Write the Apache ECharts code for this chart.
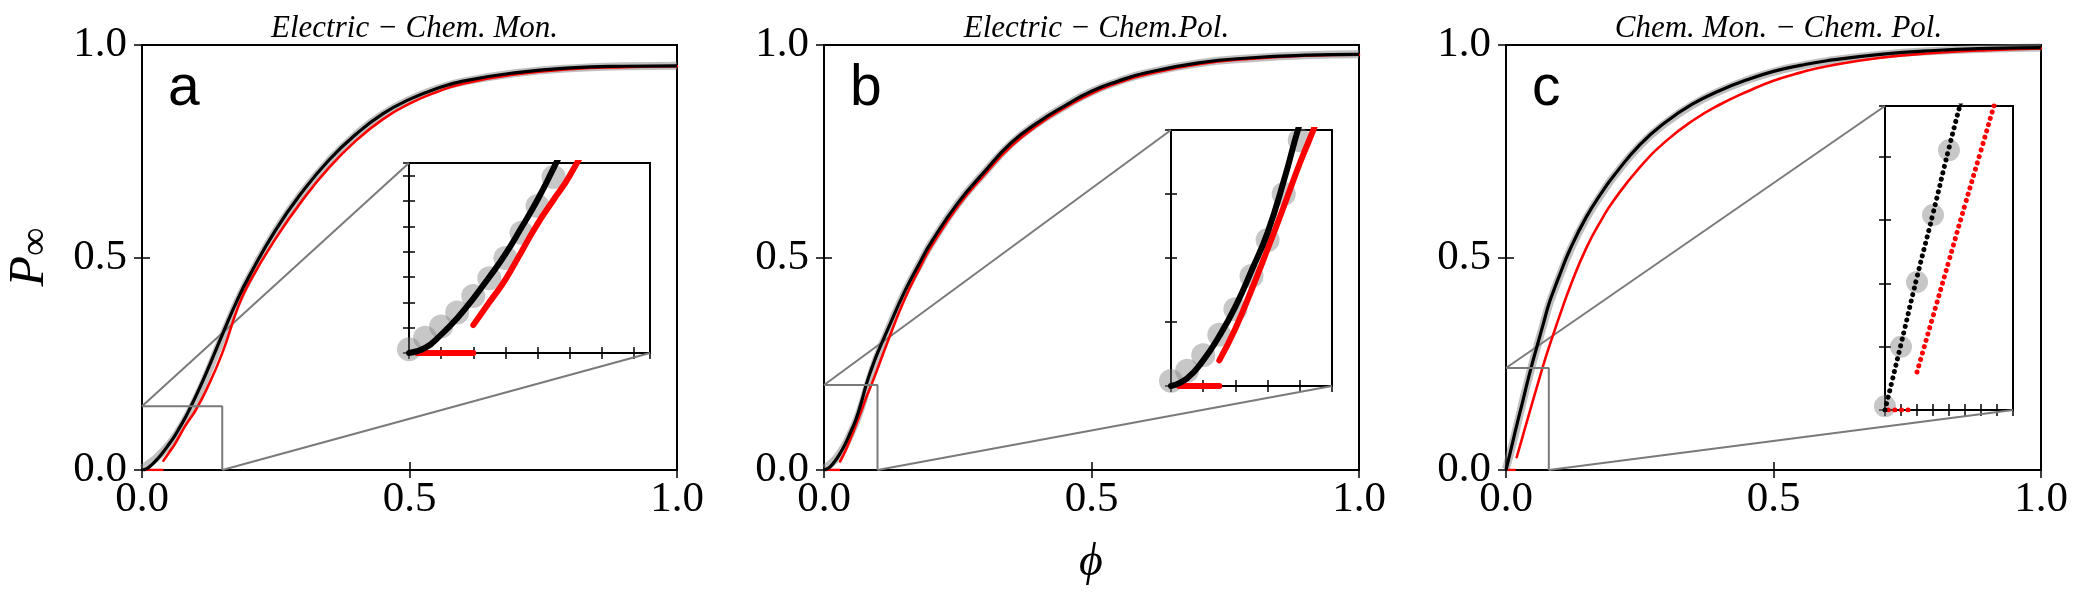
<!DOCTYPE html>
<html>
<head>
<meta charset="utf-8">
<script src="https://cdn.jsdelivr.net/npm/echarts@6/dist/echarts.min.js"></script>
<style>
  html, body { margin: 0; padding: 0; background: #fff; }
  #chart { width: 2083px; height: 601px; }
</style>
</head>
<body>
<div id="chart"></div>
<script>
// occupation fraction phi, shared by the three panels
const phi = [0, 0.01, 0.02, 0.03, 0.04, 0.05, 0.06, 0.07, 0.08, 0.09, 0.1, 0.12, 0.15, 0.18, 0.2,
  0.25, 0.3, 0.35, 0.4, 0.45, 0.5, 0.55, 0.6, 0.7, 0.8, 0.9, 1.0];

// panel a : Electric - Chem. Mon.
const grayA = [0.003, 0.012, 0.021, 0.032, 0.045, 0.059, 0.075, 0.095, 0.116, 0.139, 0.164, 0.220, 0.312, 0.400, 0.451,
  0.562, 0.653, 0.728, 0.789, 0.837, 0.871, 0.896, 0.914, 0.934, 0.945, 0.950, 0.951];
const blackA = [0, 0.004, 0.0145, 0.0275, 0.043, 0.060, 0.078, 0.099, 0.121, 0.146, 0.172, 0.228, 0.318, 0.405, 0.455,
  0.565, 0.655, 0.730, 0.790, 0.838, 0.872, 0.897, 0.915, 0.935, 0.946, 0.950, 0.951];
const redA = [null, null, null, null, 0.022, 0.040, 0.058, 0.080, 0.102, 0.121, 0.140, 0.188, 0.275, 0.385, 0.440,
  0.545, 0.635, 0.712, 0.775, 0.825, 0.862, 0.889, 0.909, 0.931, 0.943, 0.948, 0.950];
const redBaseA = [[0.005, 0], [0.04, 0]];

// panel b : Electric - Chem.Pol.
const grayB = [0.004, 0.012, 0.024, 0.040, 0.060, 0.086, 0.114, 0.150, 0.192, 0.232, 0.268, 0.329, 0.415, 0.487, 0.532,
  0.626, 0.700, 0.768, 0.817, 0.856, 0.890, 0.914, 0.933, 0.957, 0.969, 0.976, 0.978];
const blackB = [0, 0.006, 0.020, 0.039, 0.062, 0.090, 0.120, 0.160, 0.205, 0.242, 0.275, 0.333, 0.418, 0.490, 0.535,
  0.628, 0.702, 0.770, 0.818, 0.857, 0.891, 0.915, 0.934, 0.958, 0.970, 0.976, 0.978];
const redB = [null, null, null, 0.020, 0.045, 0.075, 0.107, 0.140, 0.174, 0.205, 0.238, 0.305, 0.400, 0.478, 0.525,
  0.620, 0.695, 0.762, 0.812, 0.852, 0.886, 0.911, 0.930, 0.955, 0.968, 0.975, 0.977];
const redBaseB = [[0.005, 0], [0.03, 0]];

// panel c : Chem. Mon. - Chem. Pol.
const grayC = [0.003, 0.050, 0.101, 0.154, 0.205, 0.253, 0.298, 0.343, 0.387, 0.422, 0.455, 0.517, 0.592, 0.652, 0.688,
  0.763, 0.818, 0.860, 0.892, 0.917, 0.937, 0.951, 0.962, 0.977, 0.986, 0.991, 0.994];
const blackC = [0, 0.052, 0.105, 0.155, 0.207, 0.255, 0.300, 0.345, 0.390, 0.425, 0.458, 0.520, 0.595, 0.655, 0.690,
  0.765, 0.820, 0.862, 0.893, 0.918, 0.938, 0.952, 0.963, 0.978, 0.987, 0.992, 0.994];
const redC = [null, null, 0.030, 0.074, 0.118, 0.162, 0.205, 0.248, 0.288, 0.325, 0.362, 0.432, 0.522, 0.592, 0.632,
  0.712, 0.775, 0.823, 0.860, 0.890, 0.916, 0.935, 0.950, 0.970, 0.981, 0.988, 0.992];
const redBaseC = [[0.002, 0], [0.018, 0]];

const titles = ['Electric \u2212 Chem. Mon.', 'Electric \u2212 Chem.Pol.', 'Chem. Mon. \u2212 Chem. Pol.'];
const letters = ['a', 'b', 'c'];

// zoom window of each inset: [xMax, yMax, xTick, yTick]
const zoomWin = [[0.15, 0.15, 0.02, 0.02], [0.1, 0.2, 0.02, 0.05], [0.08, 0.24, 0.01, 0.05]];

const serif = "'Liberation Serif', 'DejaVu Serif', serif";
const panels = [
  { gray: grayA, black: blackA, red: redA, base: redBaseA, main: [142, 45], inset: [409, 163, 241, 190], dotted: false },
  { gray: grayB, black: blackB, red: redB, base: redBaseB, main: [824, 45], inset: [1171, 130, 161, 256], dotted: false },
  { gray: grayC, black: blackC, red: redC, base: redBaseC, main: [1506, 45], inset: [1885, 106, 128, 304], dotted: true }
];
const W = 535, H = 425;

const pairs = (ys) => phi.map((x, i) => (ys[i] == null ? [x, '-'] : [x, ys[i]]));

const grid = [], xAxis = [], yAxis = [], series = [], title = [];

function axisPair(list, gi, min, max, interval, isX, tickLen, labels) {
  const base = {
    gridIndex: gi, type: 'value', min: min, max: max, interval: interval,
    axisLine: { show: false }, splitLine: { show: false },
    axisTick: { inside: true, length: tickLen, lineStyle: { color: '#000', width: 1.5 } }
  };
  list.push(Object.assign({}, base, {
    position: isX ? 'bottom' : 'left',
    axisLabel: labels ? {
      formatter: (v) => v.toFixed(1), fontFamily: serif, fontSize: 43, color: '#000',
      margin: isX ? 8 : 15
    } : { show: false }
  }));
  list.push(Object.assign({}, base, { position: isX ? 'top' : 'right', axisLabel: { show: false } }));
}

const SM = 0.5;
panels.forEach((p, i) => {
  const gm = i * 2, gi = i * 2 + 1;
  const [zx, zy, tx, ty] = zoomWin[i];
  grid.push({ left: p.main[0], top: p.main[1], width: W, height: H, show: true, borderColor: '#000', borderWidth: 2 });
  grid.push({ left: p.inset[0], top: p.inset[1], width: p.inset[2], height: p.inset[3], show: true,
    borderColor: '#000', borderWidth: 2, backgroundColor: '#fff' });
  axisPair(xAxis, gm, 0, 1, 0.5, true, 8, true);
  axisPair(yAxis, gm, 0, 1, 0.5, false, 8, true);
  axisPair(xAxis, gi, 0, zx, tx, true, 6, false);
  axisPair(yAxis, gi, 0, zy, ty, false, 6, false);

  const mx = i * 4, ix = i * 4 + 2;
  // main panel
  series.push({ type: 'line', xAxisIndex: mx, yAxisIndex: mx, data: pairs(p.gray), smooth: SM,
    showSymbol: false, lineStyle: { color: 'rgba(130,130,130,0.5)', width: 8 }, z: 2 });
  series.push({ type: 'line', xAxisIndex: mx, yAxisIndex: mx, data: p.base, showSymbol: false,
    lineStyle: { color: '#f00', width: 2.6 }, z: 3 });
  series.push({ type: 'line', xAxisIndex: mx, yAxisIndex: mx, data: pairs(p.red), smooth: SM,
    showSymbol: false, lineStyle: { color: '#f00', width: 2.6, cap: 'round' }, z: 3 });
  series.push({ type: 'line', xAxisIndex: mx, yAxisIndex: mx, data: pairs(p.black), smooth: SM,
    showSymbol: false, lineStyle: { color: '#000', width: 3.2 }, z: 4 });
  // zoom rectangle
  series.push({ type: 'line', xAxisIndex: mx, yAxisIndex: mx, data: [[0, zy], [zx, zy], [zx, 0]], showSymbol: false,
    lineStyle: { color: '#7a7a7a', width: 2 }, z: 5 });

  // inset
  const lw = p.dotted ? 5 : 6;
  const dash = p.dotted ? [0.1, 6.5] : 'solid';
  series.push({ type: 'scatter', xAxisIndex: ix, yAxisIndex: ix, data: pairs(p.gray).filter(d => d[0] <= zx),
    symbolSize: p.dotted ? 22 : 24, itemStyle: { color: 'rgba(128,128,128,0.55)' }, z: 2 });
  series.push({ type: 'line', xAxisIndex: ix, yAxisIndex: ix, data: p.base, showSymbol: false,
    lineStyle: { color: '#f00', width: lw, cap: 'round', type: dash }, z: 3 });
  series.push({ type: 'line', xAxisIndex: ix, yAxisIndex: ix, data: pairs(p.red), smooth: SM,
    showSymbol: false, lineStyle: { color: '#f00', width: lw, cap: 'round', type: dash }, z: 3 });
  series.push({ type: 'line', xAxisIndex: ix, yAxisIndex: ix, data: pairs(p.black), smooth: SM,
    showSymbol: false, lineStyle: { color: '#000', width: lw, cap: 'round', type: dash }, z: 4 });

  title.push({ text: titles[i], left: p.main[0] + W / 2, top: 8, textAlign: 'center',
    textStyle: { fontFamily: serif, fontStyle: 'italic', fontWeight: 'normal', fontSize: 31, color: '#000' } });
  title.push({ text: letters[i], left: p.main[0] + 21, top: 56,
    textStyle: { fontFamily: "'Liberation Sans', Arial, sans-serif", fontWeight: 'normal', fontSize: 57, color: '#000' } });
});

const chart = echarts.init(document.getElementById('chart'), null, { renderer: 'canvas' });
chart.setOption({ animation: false, backgroundColor: '#fff', title, grid, xAxis, yAxis, series });

// connector lines from the zoom rectangle to the inset corners
const graphic = [];
panels.forEach((p, i) => {
  const [zx, zy] = zoomWin[i];
  const mf = { xAxisIndex: i * 4, yAxisIndex: i * 4 };
  const inf = { xAxisIndex: i * 4 + 2, yAxisIndex: i * 4 + 2 };
  const a0 = chart.convertToPixel(mf, [0, zy]);
  const b0 = chart.convertToPixel(inf, [0, zy]);
  const a1 = chart.convertToPixel(mf, [zx, 0]);
  const b1 = chart.convertToPixel(inf, [zx, 0]);
  [[a0, b0], [a1, b1]].forEach(([s, e]) => {
    graphic.push({ type: 'line', z: 1, shape: { x1: s[0], y1: s[1], x2: e[0], y2: e[1] },
      style: { stroke: '#7a7a7a', lineWidth: 2 } });
  });
});
graphic.push({
  type: 'text', x: 30, y: 257, rotation: Math.PI / 2,
  style: {
    text: '{p|P}{s|\u221e}', align: 'center', verticalAlign: 'middle',
    rich: {
      p: { fontFamily: serif, fontStyle: 'italic', fontSize: 50, lineHeight: 52, verticalAlign: 'middle' },
      s: { fontFamily: serif, fontSize: 40, lineHeight: 40, verticalAlign: 'bottom' }
    }
  }
});
graphic.push({
  type: 'text', x: 1091, y: 563,
  style: { text: '\u03d5', fontFamily: serif, fontStyle: 'italic', fontSize: 46, fill: '#000', align: 'center', verticalAlign: 'middle' }
});
chart.setOption({ graphic });
</script>
</body>
</html>
